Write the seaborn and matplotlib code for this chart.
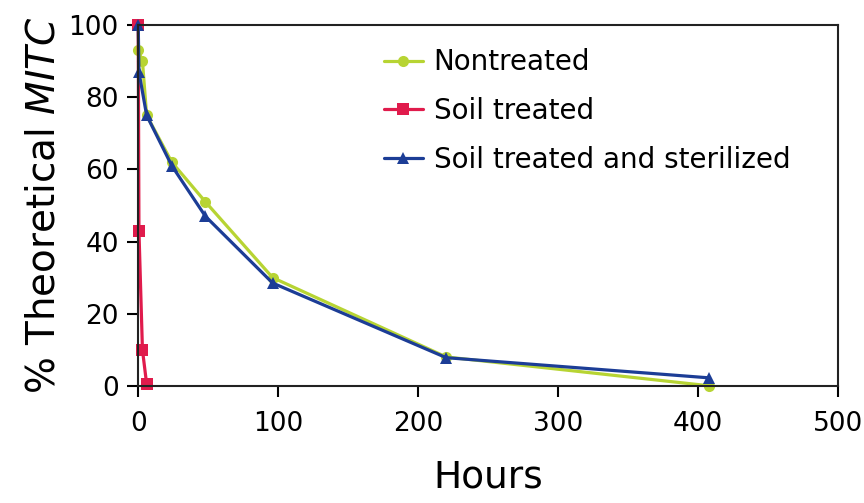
import numpy as np
import pandas as pd
import matplotlib
matplotlib.use('Agg')
import matplotlib.pyplot as plt
import seaborn as sns

# --- data ---
hours_nontreated = [0, 3, 6, 24, 48, 96, 220, 408]
pct_nontreated = [93, 90, 75, 62, 51, 30, 8, 0]

hours_soil = [0, 0.5, 3, 6]
pct_soil = [100, 43, 10, 0.5]

hours_sterile = [0, 0.5, 6, 24, 48, 96, 220, 408]
pct_sterile = [100, 87, 75, 61, 47, 28.5, 7.8, 2.2]

labels = ['Nontreated', 'Soil treated', 'Soil treated and sterilized']
colors = ['#b7d433', '#e01b4c', '#1c3d96']
markers = ['o', 's', '^']

df = pd.concat([
    pd.DataFrame({'Hours': hours_nontreated, 'Pct': pct_nontreated, 'Series': labels[0]}),
    pd.DataFrame({'Hours': hours_soil, 'Pct': pct_soil, 'Series': labels[1]}),
    pd.DataFrame({'Hours': hours_sterile, 'Pct': pct_sterile, 'Series': labels[2]}),
], ignore_index=True)

sns.set_style('white')
plt.rcParams['font.family'] = ['DejaVu Sans']
plt.rcParams['mathtext.fontset'] = 'custom'
plt.rcParams['mathtext.it'] = 'DejaVu Sans:italic'
plt.rcParams['text.color'] = 'black'
plt.rcParams['axes.labelcolor'] = 'black'
plt.rcParams['xtick.color'] = 'black'
plt.rcParams['ytick.color'] = 'black'

fig = plt.figure(figsize=(8.64, 5.03), dpi=100)
ax = fig.add_axes([0.16, 0.233, 0.81, 0.717])

sns.lineplot(data=df, x='Hours', y='Pct', hue='Series', style='Series',
             hue_order=labels, style_order=labels,
             palette=dict(zip(labels, colors)), markers=dict(zip(labels, markers)),
             dashes=False, markersize=8, markeredgewidth=0, linewidth=2.3,
             sort=False, estimator=None, ax=ax, clip_on=False)

ax.set_xlim(0, 500)
ax.set_ylim(0, 100)
ax.set_xticks([0, 100, 200, 300, 400, 500])
ax.set_yticks([0, 20, 40, 60, 80, 100])
ax.tick_params(axis='both', direction='out', length=8, width=1.5, labelsize=19,
               left=True, bottom=True, pad=6)
ax.tick_params(axis='x', pad=10)
for s in ax.spines.values():
    s.set_linewidth(1.5)
    s.set_color('#222222')

ax.set_xlabel('Hours', fontsize=27, labelpad=16)
ax.set_ylabel(r'% Theoretical $\mathit{MITC}$', fontsize=28, labelpad=4)

leg = ax.legend(loc='upper left', bbox_to_anchor=(0.315, 1.005), frameon=False,
                fontsize=20, handlelength=1.4, handletextpad=0.4, labelspacing=0.75)

fig.savefig('out.png', dpi=100)
